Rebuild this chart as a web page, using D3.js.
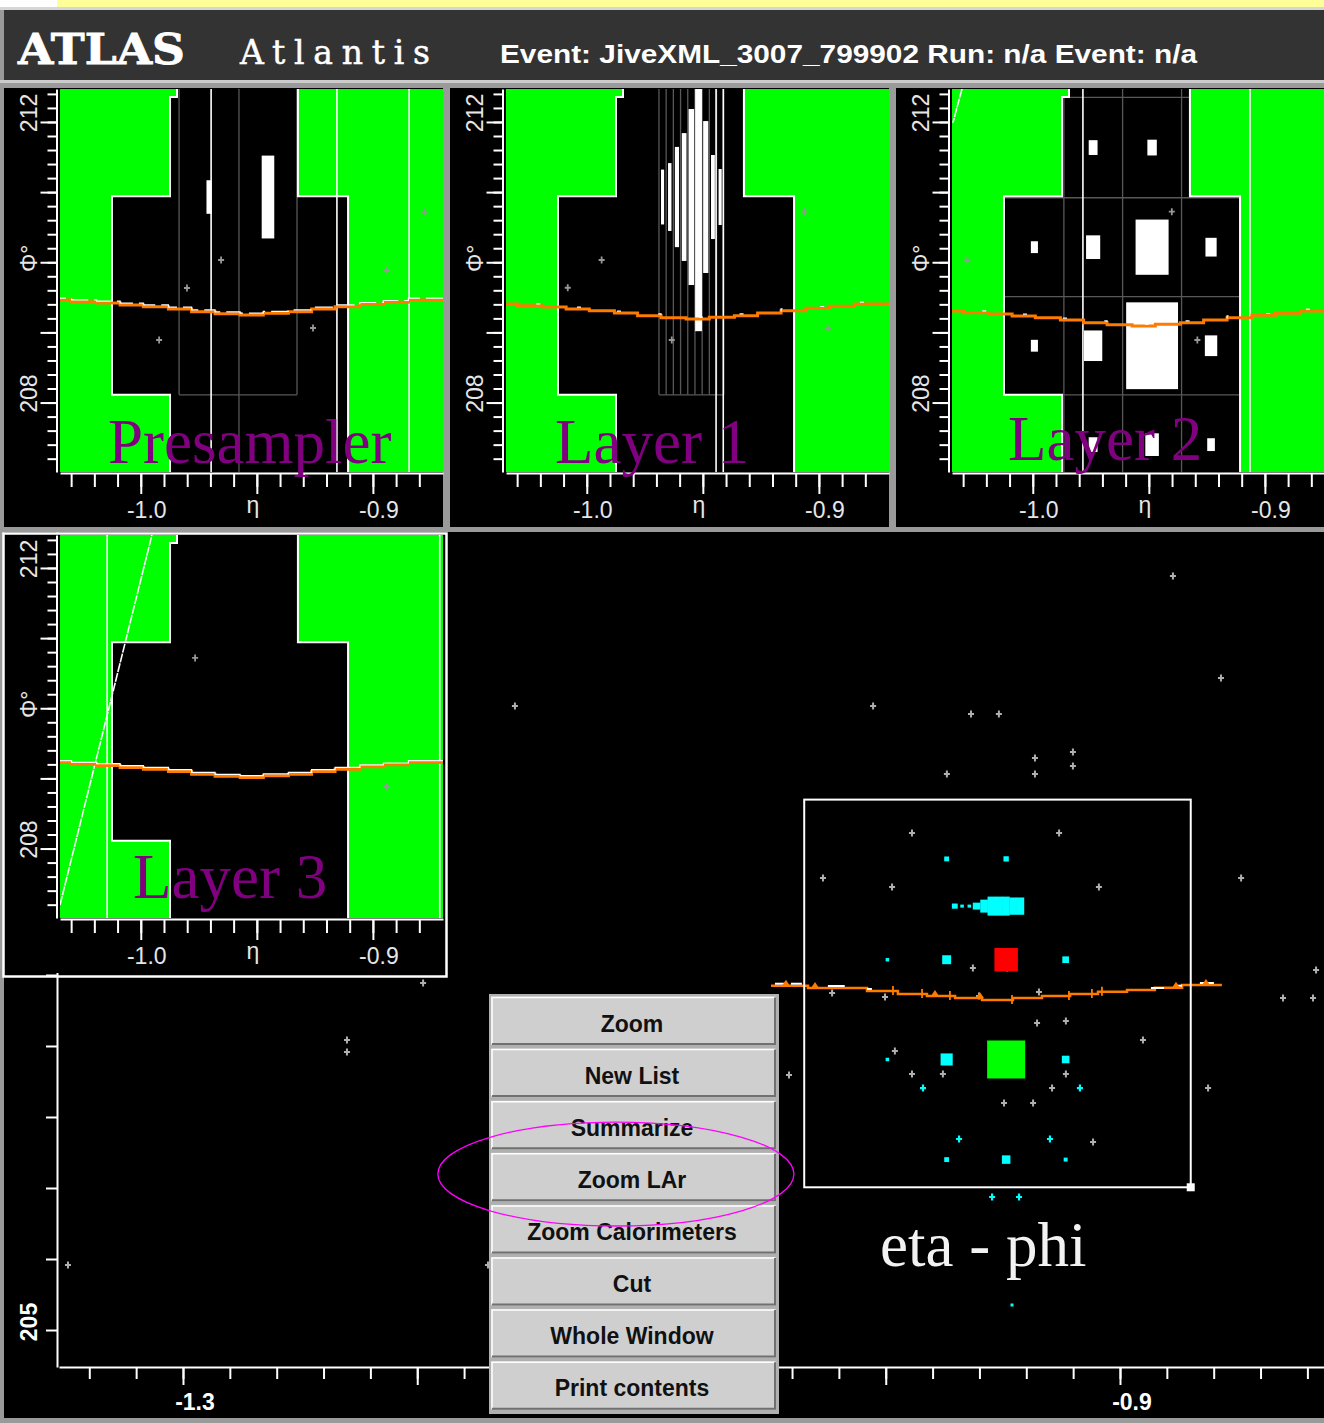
<!DOCTYPE html>
<html>
<head>
<meta charset="utf-8">
<title>Atlantis - LAr zoom</title>
<script src="https://cdn.jsdelivr.net/npm/d3@7/dist/d3.min.js"></script>
<style>
  body { margin: 0; background: #9a9a9a; }
  svg { display: block; }
  text { font-family: "Liberation Sans", Arial, sans-serif; }
</style>
</head>
<body>
<div id="display"></div>
<script>
var WIDTH = 1324, HEIGHT = 1423;

var headerEvent = "Event: JiveXML_3007_799902  Run: n/a  Event: n/a";

/* zoom window (eta, phi in degrees) shared by the four layer views */
var zoomEta = [-1.0348, -0.8698];
var zoomPhi = [207.01, 212.47];

/* outline of the selected LAr cells */
var regionEta = [-0.9844, -0.9323, -0.9323, -0.9107, -0.9107, -0.9874, -0.9874, -1.0124, -1.0124, -0.9874, -0.9874, -0.9844];
var regionPhi = [212.60, 212.60, 210.94, 210.94, 206.90, 206.90, 208.11, 208.11, 210.94, 210.94, 212.356, 212.356];

/* extrapolated track (presampler), shifted in phi for the deeper layers */
var trackEta = [-1.0400, -1.0298, -1.0190, -1.0089, -0.9989, -0.9881, -0.9781, -0.9680, -0.9572, -0.9472, -0.9364, -0.9264, -0.9163, -0.9056, -0.8955, -0.8847, -0.8650];
var trackPhi = [209.462, 209.438, 209.419, 209.391, 209.367, 209.334, 209.296, 209.267, 209.248, 209.273, 209.296, 209.334, 209.367, 209.401, 209.429, 209.462, 209.462];
var trackShift = [0, -0.057, -0.157, -0.235];

/* presampler */
var preCellEta = [-0.9706, -0.9452];
var preCellPhi = [210.93, 210.93];
var preCellE   = [0.85, 2.1];
var preGrid = [[-0.9835, 212.6, -0.9835, 208.11], [-0.9577, 212.6, -0.9577, 206.9],
               [-0.9327, 212.6, -0.9327, 208.11], [-0.9835, 208.11, -0.9327, 208.11]];
var preLinesEta = [-0.9697, -0.9155, -0.8844];
var preHitEta = [-0.9654, -0.9801, -0.9921, -0.9258, -0.8939, -0.8775];
var preHitPhi = [210.032, 209.633, 208.892, 209.063, 209.890, 210.717];

/* layer 1 (strips) */
var l1StripEta = [-0.96735, -0.96425, -0.96115, -0.95805, -0.95495, -0.95185, -0.94875, -0.94565, -0.94255];
var l1StripE   = [1.39, 1.72, 2.54, 3.24, 4.46, 6.8, 3.85, 2.13, 1.42];
var l1StripPhi = 210.93;
var l1StripEdges = [-0.9689, -0.9658, -0.9627, -0.9596, -0.9565, -0.9534, -0.9503, -0.9472, -0.9441, -0.9410];
var l1LinesEta = [-0.9443, -0.9412];
var l1HitEta = [-0.9936, -1.0082, -0.9634, -0.9060, -0.8962];
var l1HitPhi = [210.032, 209.637, 208.892, 210.721, 209.058];

/* layer 2 (middle) */
var l2ColEta = [-0.9993, -0.9740, -0.9486, -0.9232];
var l2RowPhi = [211.635, 210.215, 208.81, 207.40];
var l2CellCol = [1, 2, 0, 1, 2, 3, 0, 1, 2, 3, 1, 2, 3];
var l2CellRow = [0, 0, 1, 1, 1, 1, 2, 2, 2, 2, 3, 3, 3];
var l2CellE   = [1.5, 1.6, 1.2, 2.4, 5.6, 1.9, 1.2, 3.1, 8.8, 2.1, 1.5, 2.3, 1.3];
var l2EtaEdges = [-1.0124, -0.9866, -0.9613, -0.9359, -0.9107];
var l2PhiEdges = [212.35, 210.92, 209.51, 208.11];
var l2LinesEta = [-0.9784, -0.9064];
var l2HitEta = [-0.9401, -1.0282, -0.9291];
var l2HitPhi = [210.721, 210.032, 208.892];
var l2EdgeEta = [-1.0305, -1.0344];
var l2EdgePhi = [212.47, 211.99];

/* layer 3 (back) */
var l3LinesEta = [-1.0145, -0.8712];
var l3HitEta = [-0.9766, -0.8940];
var l3HitPhi = [210.717, 208.882];
var l3EdgeEta = [-1.0348, -0.9952];
var l3EdgePhi = [207.196, 212.47];

/* main eta-phi view */
var mainHitEta = [-0.8774, -0.8569, -1.1583, -1.0054, -0.9636, -0.9517, -0.9363, -0.9201, -0.9201, -0.9739, -0.9363,
                  -1.1975, -1.2300, -1.2300, -1.3491, -1.1698, -0.8163, -0.8304, -0.8176, -0.8624, -0.8483, -0.8902,
                  -1.0413, -0.9888, -0.9260, -1.0268, -0.9973, -0.9090, -0.9628, -0.9482, -1.0229, -1.0003, -0.9602,
                  -0.9346, -0.9354, -0.9231, -0.9961, -0.9888, -0.9756, -0.9231, -0.9290, -0.9495, -0.9371, -0.9115];
var mainHitPhi = [215.620, 214.183, 213.789, 213.789, 213.676, 213.676, 213.056, 213.141, 212.944, 212.831, 212.831,
                  209.887, 209.085, 208.915, 205.915, 205.915, 210.070, 209.676, 209.676, 208.408, 211.366, 209.085,
                  208.592, 212.000, 212.000, 211.366, 211.239, 211.239, 210.099, 210.099, 209.746, 209.690, 209.704,
                  209.761, 209.324, 209.352, 208.930, 208.606, 208.606, 208.606, 208.408, 208.197, 208.197, 207.648];
var mainCyanHitEta = [-0.9841, -0.9171, -0.9687, -0.9299, -0.9546, -0.9431];
var mainCyanHitPhi = [208.408, 208.408, 207.690, 207.690, 206.873, 206.873];
var mainDotEta = [-0.9461];
var mainDotPhi = [205.352];
var mainStripEta = [-0.9706, -0.9675, -0.9644, -0.9613, -0.9581, -0.9550, -0.9519, -0.9488, -0.9457, -0.9426];
var mainStripE   = [1.2, 0.7, 0.7, 1.6, 3.0, 4.4, 4.4, 4.4, 4.0, 4.0];
var mainStripPhi = 210.97;
var mainTrackEta = [-1.0490, -1.0332, -1.0080, -0.9948, -0.9824, -0.9704, -0.9589, -0.9457, -0.9333, -0.9213, -0.9094, -0.8970, -0.8851, -0.8735, -0.8565];
var mainTrackPhi = [209.849, 209.817, 209.775, 209.732, 209.704, 209.676, 209.648, 209.676, 209.704, 209.732, 209.765, 209.789, 209.821, 209.859, 209.859];
var mainTrackTickEta = [-0.9969, -0.9845, -0.9726, -0.9461, -0.9218, -0.9120, -0.9077];
var mainTrackBumpEta = [-1.0426, -1.0302, -0.9790, -0.9598, -0.8761, -0.8633];
var mainTrackWhite = [[-1.0473, -1.0430], [-1.0405, -1.0358], [-1.0247, -1.0175], [-1.0080, -1.0059],
                      [-0.8868, -0.8812], [-0.8761, -0.8735], [-0.8659, -0.8599]];
var markEta = -1.1152, markPhi = 207.197, markREta = 0.076, markRPhi = 0.732;

/* ticks */
var panelMinorEta = d3.range(-103, -87).map(function(k){ return k / 100; });
var panelMajorEta = [-1.0, -0.95, -0.9];
var panelEtaLabels = [-1.0, -0.9];
var panelEtaText   = ["-1.0", "-0.9"];
var panelMinorPhi = d3.range(1036, 1063).map(function(k){ return k / 5; });
var panelMajorPhi = [208, 209, 210, 211, 212];
var panelPhiLabels = [212, 208];
var panelPhiText   = ["212", "208"];
var mainMinorEta = d3.range(-134, -81, 2).map(function(k){ return k / 100; });
var mainMajorEta = [-1.3, -1.2, -1.1, -1.0, -0.9];
var mainEtaLabels = [-1.3, -0.9];
var mainEtaText   = ["-1.3", "-0.9"];
var mainPhiTicks = d3.range(205, 217);
var mainPhiLabels = [205];

var menuItems = ["Zoom", "New List", "Summarize", "Zoom LAr", "Zoom Calorimeters", "Cut", "Whole Window", "Print contents"];

/* ---------------------------------------------------------------- */

var cellFrac = d3.scaleLinear().domain([0, 10]).range([0, 1]);
var stripWidthFrac = d3.scaleSqrt().domain([0, 7.5]).range([0, 1]).clamp(true);
var mainCellSize = d3.scaleLinear().domain([1.2, 8.8]).range([3.5, 38]);
var mainCellColor = d3.scaleThreshold().domain([4, 7]).range(["#00ffff", "#ff0000", "#00ff00"]);
var mainStripHeight = d3.scaleLinear().domain([0, 4.4]).range([0, 0.268]);
var mainStripWidth = d3.scaleLinear().domain([0, 1.6]).range([0, 1]).clamp(true);

function crossPath(cx, cy, r) {
    return "M" + (cx - r) + "," + cy + "H" + (cx + r) + "M" + cx + "," + (cy - r - 0.5) + "V" + (cy + r + 0.5);
}

function styleAxis(g) {
    g.selectAll("path, line").attr("stroke", "#ffffff").attr("stroke-width", 2);
}

var svg = d3.select("#display").append("svg")
    .attr("width", WIDTH)
    .attr("height", HEIGHT);
var defs = svg.append("defs");

/* Window frame & header */
svg.append("rect").attr("width", WIDTH).attr("height", HEIGHT).attr("fill", "#9a9a9a");
svg.append("rect").attr("width", 57).attr("height", 7).attr("fill", "#ffffff");
svg.append("rect").attr("x", 57).attr("width", WIDTH - 57).attr("height", 7).attr("fill", "#ffff99");
svg.append("rect").attr("y", 7).attr("width", WIDTH).attr("height", 3).attr("fill", "#d6d6d6");
svg.append("rect").attr("x", 4).attr("y", 10).attr("width", WIDTH - 4).attr("height", 70).attr("fill", "#333333");
svg.append("rect").attr("y", 80).attr("width", WIDTH).attr("height", 3).attr("fill", "#cccccc");

var header = svg.append("g").attr("fill", "#ffffff");
header.append("text").attr("x", 18).attr("y", 64)
    .style("font-family", "'DejaVu Serif', serif")
    .style("font-weight", "bold").style("font-size", "42px")
    .attr("textLength", 167).attr("lengthAdjust", "spacingAndGlyphs")
    .attr("stroke", "#ffffff").attr("stroke-width", 0.8)
    .text("ATLAS");
header.append("text").attr("x", 240).attr("y", 64)
    .style("font-family", "'DejaVu Serif', serif")
    .style("font-size", "33px")
    .attr("textLength", 190).attr("lengthAdjust", "spacing")
    .attr("stroke", "#ffffff").attr("stroke-width", 0.5)
    .text("Atlantis");
header.append("text").attr("x", 500).attr("y", 63)
    .style("font-weight", "bold").style("font-size", "26px")
    .attr("textLength", 697).attr("lengthAdjust", "spacingAndGlyphs")
    .text(headerEvent);

/* ---------------- Main eta-phi window ---------------- */
var xMain = d3.scaleLinear().domain([-1.35293, -0.81291]).range([59, 1324]);
var yMain = d3.scaleLinear().domain([204.479, 216.239]).range([1367, 532]);

var main = svg.append("g").attr("class", "main");
main.append("rect").attr("x", 4).attr("y", 532).attr("width", WIDTH - 4).attr("height", 886).attr("fill", "#000000");

defs.append("clipPath").attr("id", "clip-main").append("rect")
    .attr("x", 59).attr("y", 532).attr("width", WIDTH - 59).attr("height", 834);
var mplot = main.append("g").attr("clip-path", "url(#clip-main)");

// gray hits
mplot.selectAll(".hit")
    .data(d3.zip(mainHitEta, mainHitPhi))
    .enter().append("path")
        .attr("class", "hit")
        .attr("d", function(d){ return crossPath(xMain(d[0]), yMain(d[1]), 3); })
        .attr("stroke", "#b0b0b0").attr("stroke-width", 2);

// cyan hits
mplot.selectAll(".chit")
    .data(d3.zip(mainCyanHitEta, mainCyanHitPhi))
    .enter().append("path")
        .attr("class", "chit")
        .attr("d", function(d){ return crossPath(xMain(d[0]), yMain(d[1]), 3); })
        .attr("stroke", "#00ffff").attr("stroke-width", 2.2);

mplot.selectAll(".dot")
    .data(d3.zip(mainDotEta, mainDotPhi))
    .enter().append("rect")
        .attr("x", function(d){ return xMain(d[0]) - 1.5; })
        .attr("y", function(d){ return yMain(d[1]) - 1.5; })
        .attr("width", 3).attr("height", 3)
        .attr("fill", "#00ffff");

// layer 2 cells shown as coloured squares
var l2Cells = l2CellE.map(function(e, i){
    return {eta: l2ColEta[l2CellCol[i]], phi: l2RowPhi[l2CellRow[i]], E: e};
});
mplot.selectAll(".cell")
    .data(l2Cells)
    .enter().append("rect")
        .attr("class", "cell")
        .attr("x", function(d){ return xMain(d.eta) - mainCellSize(d.E) / 2; })
        .attr("y", function(d){ return yMain(d.phi) - mainCellSize(d.E) / 2; })
        .attr("width", function(d){ return mainCellSize(d.E); })
        .attr("height", function(d){ return mainCellSize(d.E); })
        .attr("fill", function(d){ return mainCellColor(d.E); });

// layer 1 strips
var stripPitch = 0.0031;
mplot.selectAll(".strip")
    .data(d3.zip(mainStripEta, mainStripE))
    .enter().append("rect")
        .attr("class", "strip")
        .attr("x", function(d){ return xMain(d[0] - mainStripWidth(d[1]) * stripPitch / 2); })
        .attr("width", function(d){ return xMain(d[0] + mainStripWidth(d[1]) * stripPitch / 2) - xMain(d[0] - mainStripWidth(d[1]) * stripPitch / 2) + 0.4; })
        .attr("y", function(d){ return yMain(mainStripPhi + mainStripHeight(d[1]) / 2); })
        .attr("height", function(d){ return yMain(mainStripPhi - mainStripHeight(d[1]) / 2) - yMain(mainStripPhi + mainStripHeight(d[1]) / 2); })
        .attr("fill", "#00ffff");

// track
function mainTrackAt(eta) {
    var i = Math.max(0, d3.bisectRight(mainTrackEta, eta) - 1);
    return mainTrackPhi[Math.min(i, mainTrackPhi.length - 1)];
}
var mainTrackLine = d3.line().curve(d3.curveStepAfter)
    .x(function(d){ return xMain(d[0]); })
    .y(function(d){ return yMain(d[1]); });
mplot.append("path")
    .datum(d3.zip(mainTrackEta, mainTrackPhi))
    .attr("d", mainTrackLine)
    .attr("fill", "none").attr("stroke", "#ff7b00").attr("stroke-width", 2.5);
mplot.selectAll(".tw")
    .data(mainTrackWhite)
    .enter().append("line")
        .attr("x1", function(d){ return xMain(d[0]); })
        .attr("x2", function(d){ return xMain(d[1]); })
        .attr("y1", function(d){ return yMain(mainTrackAt(d[0])) - 2; })
        .attr("y2", function(d){ return yMain(mainTrackAt(d[0])) - 2; })
        .attr("stroke", "#ffffff").attr("stroke-width", 2);
mplot.selectAll(".tt")
    .data(mainTrackTickEta)
    .enter().append("line")
        .attr("x1", function(d){ return xMain(d); })
        .attr("x2", function(d){ return xMain(d); })
        .attr("y1", function(d){ return yMain(mainTrackAt(d)) - 5; })
        .attr("y2", function(d){ return yMain(mainTrackAt(d)) + 4; })
        .attr("stroke", "#ff7b00").attr("stroke-width", 1.8);
mplot.selectAll(".tb")
    .data(mainTrackBumpEta)
    .enter().append("path")
        .attr("d", function(d){
            var cx = xMain(d), cy = yMain(mainTrackAt(d));
            return "M" + (cx - 4) + "," + cy + "L" + cx + "," + (cy - 6) + "L" + (cx + 4) + "," + cy + "Z";
        })
        .attr("fill", "#ff7b00");

// zoom box
var boxX0 = xMain(zoomEta[0]), boxX1 = xMain(zoomEta[1]);
var boxY0 = yMain(zoomPhi[1]), boxY1 = yMain(zoomPhi[0]);
mplot.append("rect")
    .attr("x", boxX0).attr("y", boxY0)
    .attr("width", boxX1 - boxX0).attr("height", boxY1 - boxY0)
    .attr("fill", "none").attr("stroke", "#ffffff").attr("stroke-width", 2);
mplot.append("rect")
    .attr("x", boxX1 - 4).attr("y", boxY1 - 4).attr("width", 8).attr("height", 8)
    .attr("fill", "#ffffff");

// main axes
var mxMinor = main.append("g").attr("transform", "translate(0,1367)")
    .call(d3.axisBottom(xMain).tickValues(mainMinorEta).tickSize(12).tickSizeOuter(0).tickFormat(""));
var mxMajor = main.append("g").attr("transform", "translate(0,1367)")
    .call(d3.axisBottom(xMain).tickValues(mainMajorEta).tickSize(18).tickSizeOuter(0).tickFormat(""));
mxMajor.select(".domain").remove();
var myAxis = main.append("g").attr("transform", "translate(57,0)")
    .call(d3.axisLeft(yMain).tickValues(mainPhiTicks).tickSize(11).tickSizeOuter(0).tickFormat(""));
[mxMinor, mxMajor, myAxis].forEach(styleAxis);

main.selectAll(".mxl")
    .data(mainEtaLabels)
    .enter().append("text")
        .attr("x", function(d){ return xMain(d) + 12; })
        .attr("y", 1410)
        .attr("text-anchor", "middle")
        .attr("fill", "#ffffff")
        .style("font-size", "23px").style("font-weight", "bold")
        .text(function(d, i){ return mainEtaText[i]; });
main.selectAll(".myl")
    .data(mainPhiLabels)
    .enter().append("text")
        .attr("transform", function(d){ return "translate(37," + (yMain(d) - 8) + ") rotate(-90)"; })
        .attr("text-anchor", "middle")
        .attr("fill", "#ffffff")
        .style("font-size", "23px").style("font-weight", "bold")
        .text(function(d){ return String(d); });

/* ---------------- LAr layer views ---------------- */
var region = d3.zip(regionEta, regionPhi);

function toCells(etas, phis, es, size) {
    return es.map(function(e, i){
        return {eta: etas[i], phi: phis[i], wFrac: cellFrac(e), hFrac: cellFrac(e), cw: size[0], ch: size[1]};
    });
}

var l1Grid = l1StripEdges.map(function(e){ return [e, 212.6, e, 208.11]; })
    .concat([[l1StripEdges[0], 208.11, l1StripEdges[l1StripEdges.length - 1], 208.11]]);
var l2Grid = l2EtaEdges.map(function(e){ return [e, 212.6, e, 206.9]; })
    .concat(l2PhiEdges.map(function(p){ return [-1.04, p, -0.86, p]; }));

var layers = [
    {id: "pre", name: "Presampler", dx: 0, dy: 0, labelX: 108, labelY: 463, trackDash: "18,6",
     lines: preLinesEta, hitEta: preHitEta, hitPhi: preHitPhi, grid: preGrid,
     cells: toCells(preCellEta, preCellPhi, preCellE, [0.0258, 5.625]), edges: []},
    {id: "l1", name: "Layer 1", dx: 446, dy: 0, labelX: 109, labelY: 463, trackDash: "4,40",
     lines: l1LinesEta, hitEta: l1HitEta, hitPhi: l1HitPhi, grid: l1Grid,
     cells: l1StripE.map(function(e, i){
         return {eta: l1StripEta[i], phi: l1StripPhi, wFrac: stripWidthFrac(e), hFrac: cellFrac(e), cw: stripPitch, ch: 5.625};
     }), edges: []},
    {id: "l2", name: "Layer 2", dx: 892, dy: 0, labelX: 116, labelY: 460, trackDash: "4,40",
     lines: l2LinesEta, hitEta: l2HitEta, hitPhi: l2HitPhi, grid: l2Grid,
     cells: l2Cells.map(function(d){
         return {eta: d.eta, phi: d.phi, wFrac: cellFrac(d.E), hFrac: cellFrac(d.E), cw: 0.0254, ch: 1.406};
     }), edges: [d3.zip(l2EdgeEta, l2EdgePhi)]},
    {id: "l3", name: "Layer 3", dx: 0, dy: 446, labelX: 133, labelY: 452, trackDash: null, border: true,
     lines: l3LinesEta, hitEta: l3HitEta, hitPhi: l3HitPhi, grid: [],
     cells: [], edges: [d3.zip(l3EdgeEta, l3EdgePhi)]}
];

function drawLayer(layer, index) {
    var g = svg.append("g")
        .attr("class", "layer " + layer.id)
        .attr("transform", "translate(" + layer.dx + "," + layer.dy + ")");
    g.append("rect").attr("x", 4).attr("y", 88).attr("width", 439).attr("height", 439).attr("fill", "#000000");

    var x = d3.scaleLinear().domain(zoomEta).range([60, 443]);
    var y = d3.scaleLinear().domain(zoomPhi).range([472, 89]);
    var line = d3.line().x(function(d){ return x(d[0]); }).y(function(d){ return y(d[1]); });

    defs.append("clipPath").attr("id", "clip-" + layer.id)
        .append("rect").attr("x", 60).attr("y", 89).attr("width", 383).attr("height", 383);
    defs.append("clipPath").attr("id", "region-" + layer.id)
        .append("path").attr("d", line(region) + "Z");

    var plot = g.append("g").attr("clip-path", "url(#clip-" + layer.id + ")");
    plot.append("rect").attr("x", 60).attr("y", 89).attr("width", 383).attr("height", 383).attr("fill", "#00ff00");
    plot.append("path").attr("d", line(region) + "Z").attr("fill", "#000000");

    // cell grid inside the region
    plot.append("g").attr("clip-path", "url(#region-" + layer.id + ")")
        .selectAll("line")
        .data(layer.grid)
        .enter().append("line")
            .attr("x1", function(d){ return x(d[0]); })
            .attr("y1", function(d){ return y(d[1]); })
            .attr("x2", function(d){ return x(d[2]); })
            .attr("y2", function(d){ return y(d[3]); })
            .attr("stroke", "#585858").attr("stroke-width", 1.3);

    // cell energies
    plot.selectAll(".cell")
        .data(layer.cells)
        .enter().append("rect")
            .attr("class", "cell")
            .attr("x", function(d){ return x(d.eta - d.wFrac * d.cw / 2); })
            .attr("width", function(d){ return x(d.eta + d.wFrac * d.cw / 2) - x(d.eta - d.wFrac * d.cw / 2); })
            .attr("y", function(d){ return y(d.phi + d.hFrac * d.ch / 2); })
            .attr("height", function(d){ return y(d.phi - d.hFrac * d.ch / 2) - y(d.phi + d.hFrac * d.ch / 2); })
            .attr("fill", "#ffffff");

    plot.append("path").attr("d", line(region) + "Z")
        .attr("fill", "none").attr("stroke", "#ffffff").attr("stroke-width", 2);

    plot.selectAll(".vline")
        .data(layer.lines)
        .enter().append("line")
            .attr("x1", function(d){ return x(d); }).attr("x2", function(d){ return x(d); })
            .attr("y1", 89).attr("y2", 472)
            .attr("stroke", "#ffffff").attr("stroke-width", 1.6);

    plot.selectAll(".edge")
        .data(layer.edges)
        .enter().append("path")
            .attr("d", line)
            .attr("fill", "none").attr("stroke", "#ffffff").attr("stroke-width", 1.6)
            .attr("stroke-dasharray", "9,1");

    plot.selectAll(".hit")
        .data(d3.zip(layer.hitEta, layer.hitPhi))
        .enter().append("path")
            .attr("d", function(d){ return crossPath(x(d[0]), y(d[1]), 3); })
            .attr("stroke", "#979797").attr("stroke-width", 1.8);

    // track
    var shifted = d3.zip(trackEta, trackPhi.map(function(p){ return p + trackShift[index]; }));
    var stepLine = d3.line().curve(d3.curveStepAfter)
        .x(function(d){ return x(d[0]); }).y(function(d){ return y(d[1]); });
    plot.append("path").datum(shifted).attr("d", stepLine)
        .attr("fill", "none").attr("stroke", "#ff7b00").attr("stroke-width", 3);
    var white = plot.append("path").datum(shifted).attr("d", stepLine)
        .attr("transform", "translate(0,-1.8)")
        .attr("fill", "none").attr("stroke", "#ffffff").attr("stroke-width", 1.2);
    if (layer.trackDash) white.attr("stroke-dasharray", layer.trackDash);

    // axes
    var xMinor = g.append("g").attr("transform", "translate(0,473)")
        .call(d3.axisBottom(x).tickValues(panelMinorEta).tickSize(14).tickSizeOuter(0).tickFormat(""));
    var xMajor = g.append("g").attr("transform", "translate(0,473)")
        .call(d3.axisBottom(x).tickValues(panelMajorEta).tickSize(21).tickSizeOuter(0).tickFormat(""));
    xMajor.select(".domain").remove();
    var yMinor = g.append("g").attr("transform", "translate(56.5,0)")
        .call(d3.axisLeft(y).tickValues(panelMinorPhi).tickSize(9).tickSizeOuter(0).tickFormat(""));
    var yMajor = g.append("g").attr("transform", "translate(56.5,0)")
        .call(d3.axisLeft(y).tickValues(panelMajorPhi).tickSize(16).tickSizeOuter(0).tickFormat(""));
    yMajor.select(".domain").remove();
    [xMinor, xMajor, yMinor, yMajor].forEach(styleAxis);

    g.selectAll(".xl")
        .data(panelEtaLabels)
        .enter().append("text")
            .attr("x", function(d){ return x(d) + 6; })
            .attr("y", 518)
            .attr("text-anchor", "middle")
            .attr("fill", "#e6e6e6")
            .style("font-size", "23px")
            .text(function(d, i){ return panelEtaText[i]; });
    g.append("text")
        .attr("x", x(-0.95) - 4).attr("y", 513)
        .attr("text-anchor", "middle").attr("fill", "#e6e6e6")
        .style("font-size", "23px")
        .text("η");
    g.selectAll(".yl")
        .data(panelPhiLabels)
        .enter().append("text")
            .attr("transform", function(d){ return "translate(37," + (y(d) - 9) + ") rotate(-90)"; })
            .attr("text-anchor", "middle")
            .attr("fill", "#e6e6e6")
            .style("font-size", "23px")
            .text(function(d, i){ return panelPhiText[i]; });
    g.append("text")
        .attr("transform", "translate(37," + (y(210) - 4) + ") rotate(-90)")
        .attr("text-anchor", "middle").attr("fill", "#e6e6e6")
        .style("font-size", "23px")
        .text("Φ°");

    if (layer.border) {
        g.append("rect").attr("x", 3.5).attr("y", 87.5).attr("width", 443).attr("height", 443)
            .attr("fill", "none").attr("stroke", "#ffffff").attr("stroke-width", 2.5);
    }

    g.append("text")
        .attr("x", layer.labelX).attr("y", layer.labelY)
        .attr("fill", "#800080")
        .style("font-family", "'Liberation Serif', 'Times New Roman', serif")
        .style("font-size", "63px")
        .text(layer.name);
}

// layer 3 sits over the main window, the top row in its own windows
drawLayer(layers[3], 3);
drawLayer(layers[0], 0);
drawLayer(layers[1], 1);
drawLayer(layers[2], 2);

/* ---------------- popup menu ---------------- */
var menu = svg.append("g").attr("class", "menu");
menu.append("rect").attr("x", 489).attr("y", 994).attr("width", 290).attr("height", 420).attr("fill", "#b0b0b0");
menuItems.forEach(function(label, i){
    var y0 = 996.5 + i * 52.1;
    var b = menu.append("g");
    b.append("rect").attr("x", 491).attr("y", y0).attr("width", 285).attr("height", 48.5).attr("fill", "#cfcfcf");
    b.append("path").attr("d", "M492," + (y0 + 47.5) + "V" + (y0 + 1) + "H775")
        .attr("fill", "none").attr("stroke", "#ffffff").attr("stroke-width", 1.5);
    b.append("path").attr("d", "M492," + (y0 + 47.5) + "H775V" + (y0 + 1))
        .attr("fill", "none").attr("stroke", "#707070").attr("stroke-width", 2);
    b.append("text").attr("x", 632).attr("y", y0 + 35)
        .attr("text-anchor", "middle").attr("fill", "#111111")
        .style("font-size", "23px").style("font-weight", "bold")
        .text(label);
});

/* annotations */
var markCx = xMain(markEta), markCy = yMain(markPhi);
svg.append("ellipse")
    .attr("cx", markCx).attr("cy", markCy)
    .attr("rx", xMain(markEta + markREta) - markCx)
    .attr("ry", markCy - yMain(markPhi + markRPhi))
    .attr("fill", "none").attr("stroke", "#ff00ff").attr("stroke-width", 1.3);

svg.append("text")
    .attr("x", 880).attr("y", 1266)
    .attr("fill", "#f2f2f2")
    .style("font-family", "'Liberation Serif', 'Times New Roman', serif")
    .style("font-size", "63px")
    .text("eta - phi");
</script>
</body>
</html>
